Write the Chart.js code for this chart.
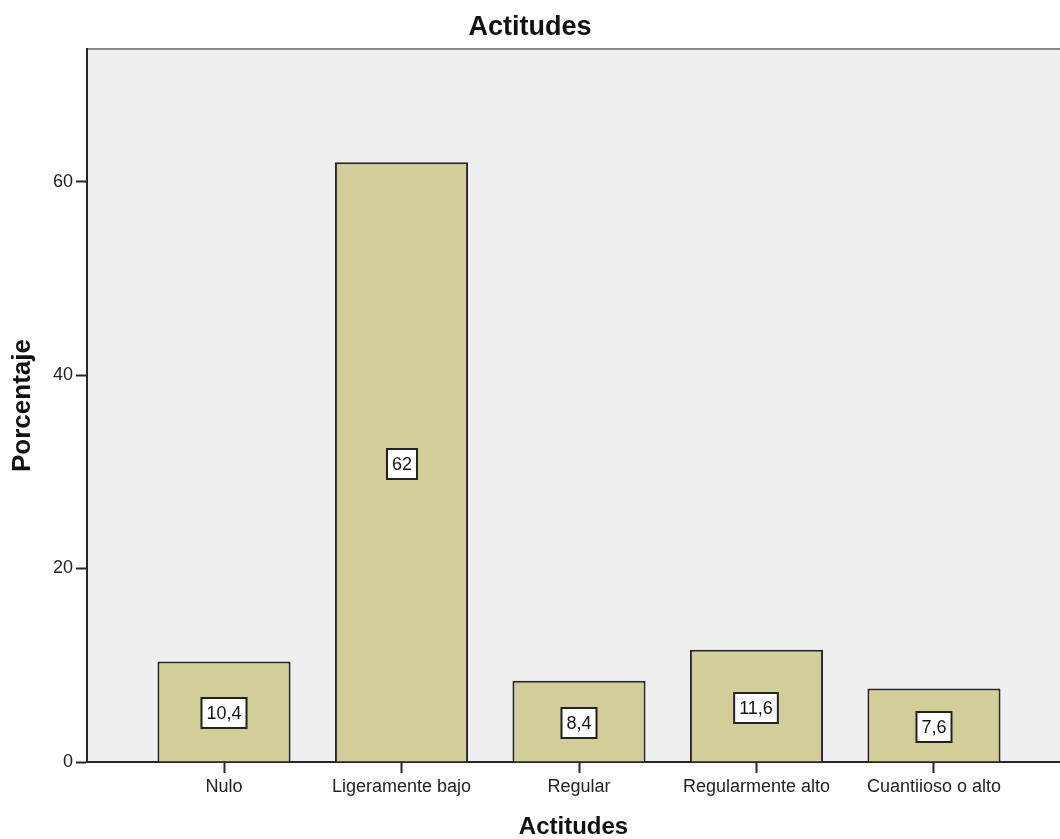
<!DOCTYPE html>
<html>
<head>
<meta charset="utf-8">
<script src="https://cdn.jsdelivr.net/npm/chart.js@4/dist/chart.umd.min.js"></script>
<style>
  html, body { margin: 0; padding: 0; background: #fff; }
  #wrap { width: 1060px; height: 839px; }
</style>
</head>
<body>
<div id="wrap"><canvas id="canvas1"></canvas></div>
<script>
const categories = ['Nulo', 'Ligeramente bajo', 'Regular', 'Regularmente alto', 'Cuantiioso o alto'];
const porcentaje = [10.4, 62, 8.4, 11.6, 7.6];
const yTicks = [0, 20, 40, 60];

Chart.defaults.font.family = '"Liberation Sans", Arial, sans-serif';
Chart.defaults.color = '#222';

// grey plot background + top border
const plotBg = {
  id: 'plotBg',
  beforeDraw(chart) {
    const {ctx, chartArea: a} = chart;
    ctx.save();
    ctx.fillStyle = '#efefef';
    ctx.fillRect(a.left, a.top, a.right - a.left, a.bottom - a.top);
    ctx.strokeStyle = '#8a8a8a';
    ctx.lineWidth = 2;
    ctx.beginPath();
    ctx.moveTo(a.left, a.top);
    ctx.lineTo(a.right, a.top);
    ctx.stroke();
    ctx.restore();
  }
};

// boxed value labels in middle of each bar
const boxLabels = {
  id: 'boxLabels',
  afterDatasetsDraw(chart) {
    const ctx = chart.ctx;
    const meta = chart.getDatasetMeta(0);
    ctx.save();
    ctx.font = '18px "Liberation Sans", Arial, sans-serif';
    ctx.textAlign = 'center';
    ctx.textBaseline = 'middle';
    meta.data.forEach((bar, i) => {
      const txt = String(porcentaje[i]).replace('.', ',');
      const w = ctx.measureText(txt).width + 10;
      const h = 30;
      const cx = Math.round(bar.x);
      const cy = Math.round((bar.y + bar.base) / 2) + 2;
      ctx.fillStyle = '#fff';
      ctx.fillRect(cx - w / 2, cy - h / 2, w, h);
      ctx.strokeStyle = '#222';
      ctx.lineWidth = 2;
      ctx.strokeRect(cx - w / 2, cy - h / 2, w, h);
      ctx.fillStyle = '#111';
      ctx.fillText(txt, cx, cy + 1);
    });
    ctx.restore();
  }
};

const data = {
  datasets: [{
    label: 'Porcentaje',
    data: porcentaje.map((v, i) => ({x: i, y: v})),
    backgroundColor: '#d3ce98',
    borderColor: '#262626',
    borderWidth: 2,
    barPercentage: 0.75,
    categoryPercentage: 1
  }]
};

const options = {
  responsive: true,
  maintainAspectRatio: false,
  animation: false,
  layout: { padding: 0 },
  plugins: {
    legend: { display: false },
    tooltip: { enabled: false },
    title: {
      display: true,
      text: 'Actitudes',
      color: '#111',
      font: { size: 27, weight: 'bold', lineHeight: 1 },
      padding: { top: 14, bottom: 8 }
    }
  },
  scales: {
    x: {
      type: 'linear',
      offset: false,
      min: -0.772,
      max: 4.71,
      afterBuildTicks: axis => { axis.ticks = categories.map((c, i) => ({value: i})); },
      afterFit: axis => { axis.height = 77; },
      ticks: {
        autoSkip: false,
        maxRotation: 0,
        padding: 3,
        color: '#222',
        font: { size: 18 },
        callback: v => categories[v]
      },
      grid: {
        offset: false,
        drawOnChartArea: false,
        drawTicks: true,
        tickLength: 11,
        tickColor: '#262626',
        tickWidth: 2
      },
      border: { color: '#262626', width: 2 },
      title: {
        display: true,
        text: 'Actitudes',
        color: '#111',
        font: { size: 24, weight: 'bold', lineHeight: 1 },
        padding: { top: 0, bottom: 0 }
      }
    },
    y: {
      min: 0,
      max: 73.7,
      afterBuildTicks: axis => { axis.ticks = yTicks.map(v => ({value: v})); },
      afterFit: axis => { axis.width = 87; },
      ticks: {
        padding: 3,
        color: '#222',
        font: { size: 18 }
      },
      grid: {
        drawOnChartArea: false,
        drawTicks: true,
        tickLength: 11,
        tickColor: '#262626',
        tickWidth: 2
      },
      border: { color: '#262626', width: 2 },
      title: {
        display: true,
        text: 'Porcentaje',
        color: '#111',
        font: { size: 26, weight: 'bold', lineHeight: 1 },
        padding: { top: 10, bottom: 0 }
      }
    }
  }
};

const canvas = document.getElementById('canvas1');
const myChart = new Chart(canvas.getContext('2d'), {
  type: 'bar',
  data: data,
  options: options,
  plugins: [plotBg, boxLabels]
});
</script>
</body>
</html>
